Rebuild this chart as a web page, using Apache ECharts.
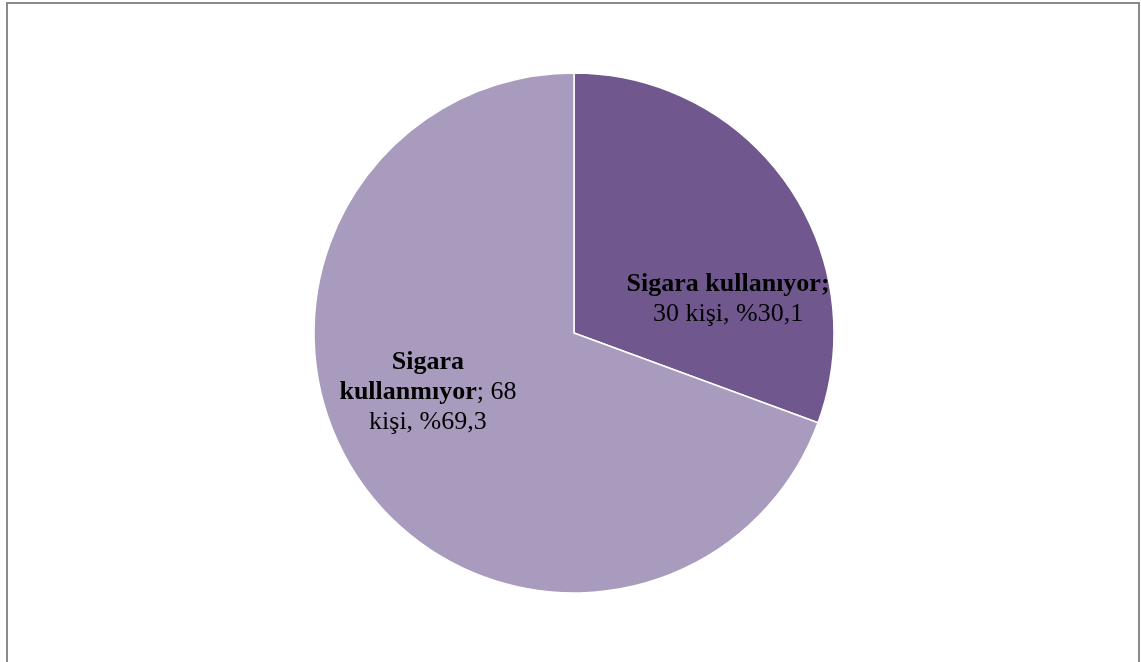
<!DOCTYPE html>
<html lang="tr">
<head>
<meta charset="UTF-8">
<title>Sigara kullanımı</title>
<script src="https://cdn.jsdelivr.net/npm/echarts@6/dist/echarts.min.js"></script>
<style>
  html, body { margin: 0; padding: 0; background: #fff; }
  #main { width: 1141px; height: 662px; }
</style>
</head>
<body>
<div id="main"></div>
<script>
// veriler
var names = ['Sigara kullanıyor', 'Sigara kullanmıyor'];
var values = [30, 68];
var percents = ['30,1', '69,3'];
var colors = ['#70588F', '#A99BBD'];

var chart = echarts.init(document.getElementById('main'));

// etiket metinleri (Excel'deki gibi satır kırılımı)
var labelTexts = [
    '{b|Sigara kullanıyor;}\n{n|' + values[0] + ' kişi, %' + percents[0] + '}',
    '{b|Sigara}\n{b|kullanmıyor}{n|; ' + values[1] + '}\n{n|kişi, %' + percents[1] + '}'
];
var labelOffsets = [[45, 42], [-37, -17]];

var data = names.map(function (n, i) {
    return {
        name: n,
        value: values[i],
        itemStyle: { color: colors[i] },
        label: { offset: labelOffsets[i] }
    };
});

chart.setOption({
    animation: false,
    graphic: [{
        type: 'rect',
        shape: { x: 7, y: 3, width: 1132, height: 680 },
        style: { fill: 'none', stroke: '#8a8a8a', lineWidth: 2 },
        silent: true
    }],
    series: [{
        type: 'pie',
        center: [574, 333],
        radius: 260,
        startAngle: 90,
        clockwise: true,
        data: data,
        itemStyle: { borderColor: '#fff', borderWidth: 1.5 },
        label: {
            show: true,
            position: 'inside',
            formatter: function (p) { return labelTexts[p.dataIndex]; },
            align: 'center',
            rich: {
                b: { fontFamily: 'Liberation Serif', fontSize: 26, fontWeight: 'bold', color: '#000', lineHeight: 30 },
                n: { fontFamily: 'Liberation Serif', fontSize: 26, color: '#000', lineHeight: 30 }
            }
        },
        labelLine: { show: false },
        emphasis: { disabled: true }
    }]
});
</script>
</body>
</html>
